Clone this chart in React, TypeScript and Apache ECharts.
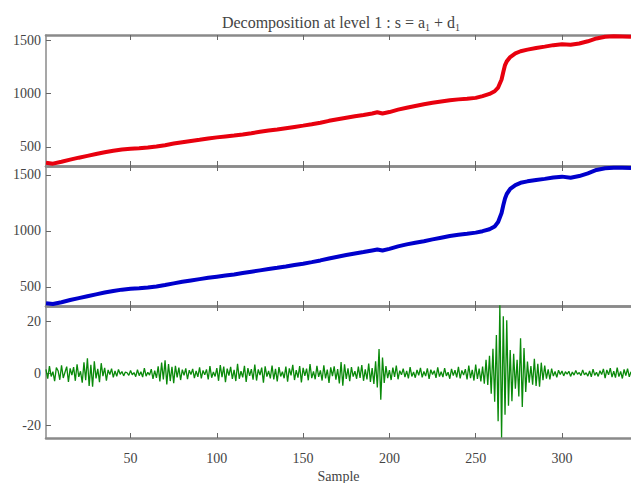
import React, { useEffect, useRef } from "react";
import * as echarts from "echarts";

// Sample positions for the smooth signal / approximation curves
const sigX = [1,5,10,15,20,25,30,35,40,45,50,55,60,65,70,75,80,85,90,95,100,105,110,115,120,125,130,135,140,145,150,155,160,165,170,175,180,185,190,193,196,200,205,210,215,220,225,230,235,240,245,250,254,258,261,263,265,266,267,268,270,273,276,280,285,290,295,300,305,310,315,320,325,330,335,340];

// Original signal s (red)
const signalS = [350,342,360,380,398,415,432,448,462,474,481,486,494,503,515,530,543,555,566,578,588,597,605,615,627,640,652,662,674,686,698,711,725,743,758,772,786,798,812,824,812,825,848,866,882,898,912,924,936,944,950,958,975,995,1020,1055,1130,1200,1265,1300,1340,1375,1395,1410,1425,1438,1452,1460,1455,1468,1488,1515,1530,1535,1533,1530];

// Approximation a1 (blue)
const approxA1 = [355,348,364,383,400,417,434,450,464,476,483,488,496,505,517,532,546,558,570,582,592,602,612,624,636,648,660,671,683,696,708,722,737,754,770,785,799,812,826,834,826,840,862,880,895,908,925,940,955,966,975,985,998,1015,1040,1080,1160,1230,1290,1330,1375,1410,1430,1443,1455,1465,1478,1485,1475,1490,1515,1545,1560,1565,1565,1563];

// Detail d1 (green), samples 1..340
const detailD1 = [
  1.5,-2.1,2.8,-1.2,0.6,-3.0,2.2,1.0,-2.5,3.1,-1.8,0.4,2.6,-3.3,1.9,-0.7,2.4,-2.9,3.5,-1.4,
  0.8,-3.6,4.2,-2.7,5.8,-4.9,3.3,-5.2,4.6,-2.0,1.7,-3.4,3.9,-1.1,2.1,-2.8,1.3,-0.5,1.8,-1.6,
  0.9,-1.2,1.5,-0.4,0.7,-1.0,0.5,0.2,-0.8,1.1,-0.6,0.3,-1.3,1.4,-0.9,0.6,-1.5,2.0,-1.1,0.4,
  -0.7,1.6,-2.2,1.0,-1.8,2.7,-3.1,4.1,-2.4,5.0,-4.3,3.6,-3.0,2.5,-3.8,2.9,-1.6,2.2,-2.6,1.4,
  -0.8,1.9,-2.3,1.2,-0.5,1.7,-1.9,0.9,-1.4,2.3,-2.0,1.1,-0.6,1.5,-2.4,2.8,-1.7,0.5,-1.2,2.0,
  -2.9,3.2,-1.5,2.6,-3.4,1.8,-0.9,2.5,-2.2,1.3,-3.0,3.7,-2.1,0.8,-1.6,2.9,-3.3,2.0,-1.0,1.6,
  -2.5,3.4,-2.8,1.5,-0.7,2.2,-3.6,2.7,-1.3,0.9,-2.0,3.0,-2.4,1.7,-3.1,2.4,-1.2,0.6,-1.9,2.6,
  -3.2,1.9,-0.8,3.3,-2.6,1.2,-1.7,2.8,-3.5,2.1,-1.0,1.8,-2.7,3.6,-1.9,0.7,-2.3,2.9,-1.4,1.1,
  -2.8,3.1,-2.0,1.4,-3.7,2.3,-1.1,2.7,-2.5,1.6,-3.9,4.3,-4.8,3.5,-2.2,1.9,-3.0,2.4,-1.3,0.8,
  -2.1,2.6,-1.8,3.2,-2.9,1.5,-2.4,3.8,-3.3,2.0,-4.1,4.6,-5.5,9.4,-10.2,6.1,-3.7,2.8,-1.9,1.2,
  -2.6,2.2,-1.4,3.0,-2.3,1.0,-0.6,1.8,-1.5,0.9,-2.0,2.4,-1.2,0.5,-1.7,1.3,-0.8,2.1,-1.6,0.7,
  -1.1,1.9,-2.2,1.4,-0.5,1.0,-1.8,2.3,-1.3,0.6,-1.5,2.0,-1.0,0.4,-2.1,1.7,-0.9,1.2,-1.6,2.5,
  -2.0,1.1,-0.7,1.6,-2.4,3.0,-1.9,1.3,-2.8,3.4,-2.2,1.8,-3.1,2.6,-4.0,5.2,-4.5,6.8,-7.9,9.5,
  -11.0,14.8,-18.5,26.5,-24.8,22.0,-16.0,20.5,-12.5,9.0,-10.8,7.5,-6.0,5.2,-9.0,13.5,-13.0,9.8,-7.2,4.5,
  -3.6,2.8,-4.4,5.6,-4.9,3.7,-5.2,4.1,-2.7,3.0,-2.1,1.5,-2.4,1.8,-1.1,0.7,-1.6,1.2,-0.5,0.9,
  -1.0,0.6,-0.3,0.8,-1.2,0.5,-0.7,1.1,-0.4,0.3,-0.9,1.3,-0.6,0.2,-1.1,0.9,-1.4,1.6,-0.8,0.4,
  -1.2,1.0,-0.5,1.7,-1.9,1.3,-0.6,2.0,-1.5,0.8,-1.7,2.2,-1.3,0.7,-2.0,1.5,-0.9,1.8,-1.4,0.6
];

const xTicks = [50, 100, 150, 200, 250, 300];
const yTicksSignal = [500, 1000, 1500];
const yTicksDetail = [-20, 0, 20];
const titleMain = "Decomposition at level 1 : s = a";
const titleMid = " + d";
const xName = "Sample";

const FONT = "Liberation Serif";
const AXIS_GRAY = "#8a8a8a";
const plain = (v: number) => String(v);

export default function App() {
  const ref = useRef<HTMLDivElement>(null);
  useEffect(() => {
    document.body.style.margin = "0";
    const chart = echarts.init(ref.current!, null, { renderer: "svg" });
    const grids = [
      { left: 46, right: 0, top: 35, height: 131, outerBoundsMode: "none" },
      { left: 46, right: 0, top: 166, height: 140, outerBoundsMode: "none" },
      { left: 46, right: 0, top: 306, height: 132, outerBoundsMode: "none" },
    ];
    const xAxes: any[] = [];
    grids.forEach((_, gi) => {
      ["bottom", "top"].forEach((pos) => {
        xAxes.push({
          type: "value",
          gridIndex: gi,
          position: pos,
          min: 1,
          max: 340,
          axisLine: { show: true, onZero: false, lineStyle: { color: AXIS_GRAY, width: 2.5 } },
          axisTick: { show: true, inside: true, length: 5, customValues: xTicks, lineStyle: { color: "#666", width: 1 } },
          splitLine: { show: false },
          axisLabel: {
            show: gi === 2 && pos === "bottom",
            customValues: xTicks,
            formatter: plain,
            fontFamily: FONT,
            fontSize: 14,
            color: "#444",
            margin: 13,
          },
          name: gi === 2 && pos === "bottom" ? xName : "",
          nameLocation: "middle",
          nameGap: 31,
          nameTextStyle: { fontFamily: FONT, fontSize: 14, color: "#444" },
        });
      });
    });
    const yRanges = [
      [320, 1547, yTicksSignal],
      [330, 1580, yTicksSignal],
      [-25, 26, yTicksDetail],
    ] as const;
    const yAxes = yRanges.map(([mn, mx, ticks], gi) => ({
      type: "value",
      gridIndex: gi,
      min: mn,
      max: mx,
      axisLine: { show: true, onZero: false, lineStyle: { color: AXIS_GRAY, width: 1.5 } },
      axisTick: { show: true, inside: true, length: 5, customValues: ticks as any, lineStyle: { color: "#666" } },
      splitLine: { show: false },
      axisLabel: { customValues: ticks as any, formatter: plain, fontFamily: FONT, fontSize: 14, color: "#444", margin: 5 },
    }));
    chart.setOption({
      animation: false,
      textStyle: { fontFamily: FONT },
      grid: grids,
      xAxis: xAxes,
      yAxis: yAxes,
      graphic: [
        {
          type: "text",
          x: 341,
          y: 22,
          style: {
            text: `{a|${titleMain}}{s|1}{a|${titleMid}}{s|1}`,
            align: "center",
            verticalAlign: "middle",
            rich: {
              a: { fontFamily: FONT, fontSize: 16, fill: "#444" },
              s: { fontFamily: FONT, fontSize: 10, fill: "#444", padding: [10, 0, 0, 0] },
            },
          },
        },
      ],
      series: [
        {
          type: "line",
          xAxisIndex: 0,
          yAxisIndex: 0,
          data: sigX.map((x, i) => [x, signalS[i]]),
          showSymbol: false,
          lineStyle: { color: "#e8000e", width: 4 },
        },
        {
          type: "line",
          xAxisIndex: 2,
          yAxisIndex: 1,
          data: sigX.map((x, i) => [x, approxA1[i]]),
          showSymbol: false,
          lineStyle: { color: "#0000cc", width: 4 },
        },
        {
          type: "line",
          xAxisIndex: 4,
          yAxisIndex: 2,
          data: detailD1.map((v, i) => [i + 1, v]),
          showSymbol: false,
          lineStyle: { color: "#0a8a0a", width: 1.3 },
        },
      ],
    });
    return () => chart.dispose();
  }, []);
  return <div ref={ref} style={{ width: 631, height: 483 }} />;
}
